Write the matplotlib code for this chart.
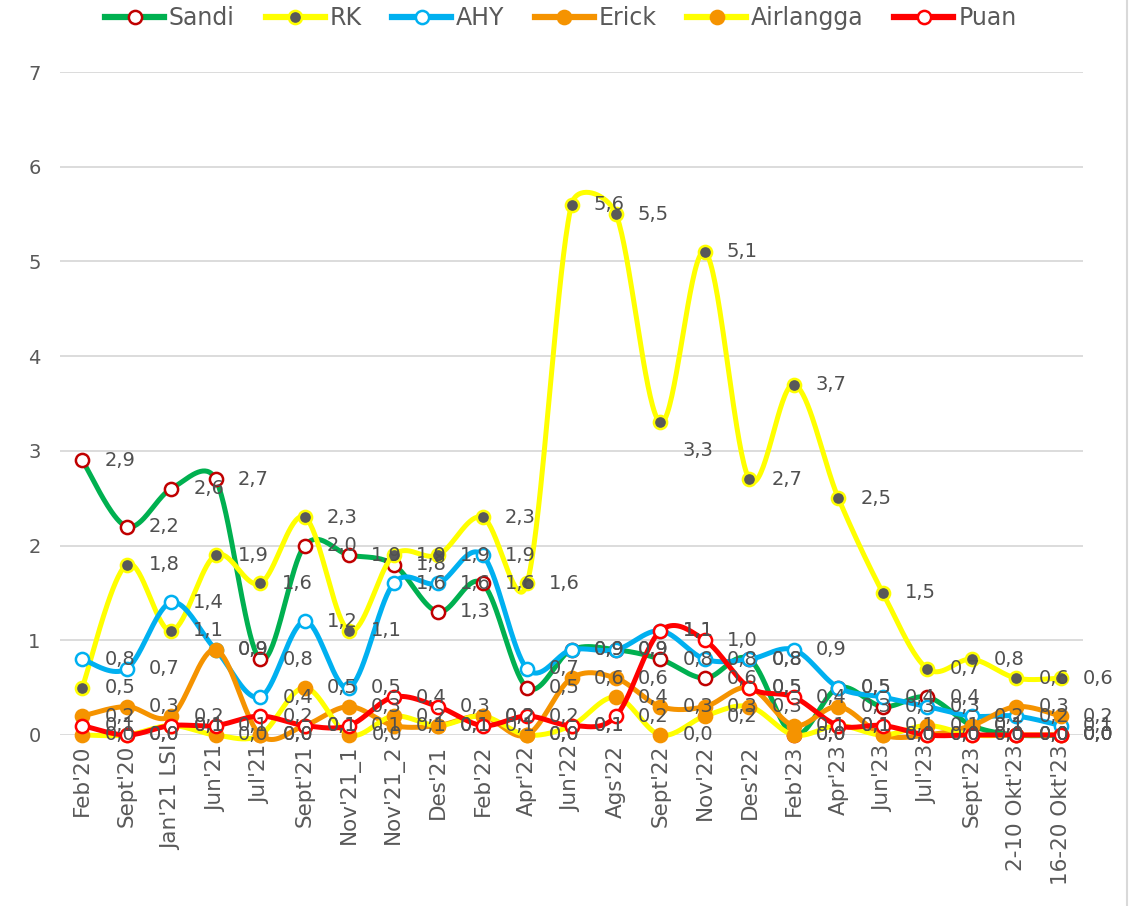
import numpy as np
import matplotlib
matplotlib.use("Agg")
import matplotlib.pyplot as plt
from matplotlib.lines import Line2D

plt.rcParams['font.family'] = ['DejaVu Sans']

categories = ["Feb'20", "Sept'20", "Jan'21 LSI", "Jun'21", "Jul'21", "Sept'21",
              "Nov'21_1", "Nov'21_2", "Des'21", "Feb'22", "Apr'22", "Jun'22",
              "Ags'22", "Sept'22", "Nov'22", "Des'22", "Feb'23", "Apr'23",
              "Jun'23", "Jul'23", "Sept'23", "2-10 Okt'23", "16-20 Okt'23"]

sandi = [2.9, 2.2, 2.6, 2.7, 0.8, 2.0, 1.9, 1.8, 1.3, 1.6, 0.5, 0.9, 0.9, 0.8,
         0.6, 0.8, 0.0, 0.5, 0.3, 0.4, 0.1, 0.0, 0.0]
rk = [0.5, 1.8, 1.1, 1.9, 1.6, 2.3, 1.1, 1.9, 1.9, 2.3, 1.6, 5.6, 5.5, 3.3,
      5.1, 2.7, 3.7, 2.5, 1.5, 0.7, 0.8, 0.6, 0.6]
ahy = [0.8, 0.7, 1.4, 0.9, 0.4, 1.2, 0.5, 1.6, 1.6, 1.9, 0.7, 0.9, 0.9, 1.1,
       0.8, 0.8, 0.9, 0.5, 0.4, 0.3, 0.2, 0.2, 0.1]
erick = [0.2, 0.3, 0.2, 0.9, 0.0, 0.1, 0.3, 0.1, 0.1, 0.2, 0.0, 0.6, 0.6, 0.3,
         0.3, 0.5, 0.1, 0.3, 0.0, 0.0, 0.1, 0.3, 0.2]
airlangga = [0.0, 0.0, 0.1, 0.0, 0.0, 0.5, 0.0, 0.2, 0.1, 0.2, 0.0, 0.1, 0.4, 0.0,
             0.2, 0.3, 0.0, 0.1, 0.0, 0.1, 0.0, 0.0, 0.0]
puan = [0.1, 0.0, 0.1, 0.1, 0.2, 0.1, 0.1, 0.4, 0.3, 0.1, 0.2, 0.1, 0.2, 1.1,
        1.0, 0.5, 0.4, 0.1, 0.1, 0.0, 0.0, 0.0, 0.0]

series_names = ["Sandi", "RK", "AHY", "Erick", "Airlangga", "Puan"]
series_values = [sandi, rk, ahy, erick, airlangga, puan]
# (line colour, marker face, marker edge)
styles = [
    ("#00B050", "white", "#C00000"),
    ("#FFFF00", "#595959", "#FFFF00"),
    ("#00B0F0", "white", "#00B0F0"),
    ("#F59300", "#F59300", "#F59300"),
    ("#FFFF00", "#F59300", "#F59300"),
    ("#FF0000", "white", "#FF0000"),
]
# individual data labels that sit lower than the default position (points)
label_shift = {("RK", 13): -20}

FIG_W, FIG_H = 1133, 906
AX_L, AX_R, AX_T, AX_B = 60, 1083, 72, 735
YMAX = 7
PX_X = (AX_R - AX_L) / len(categories)
PX_Y = (AX_B - AX_T) / YMAX


def smooth(x, y, n=40, ratio=0.5):
    """Spreadsheet-like smoothed line: Catmull-Rom bezier in screen space with the
    control-arm length limited to a fraction of the segment length."""
    P = np.column_stack([np.asarray(x, float) * PX_X, np.asarray(y, float) * PX_Y])
    m = len(P)
    tv = []
    for i in range(m):
        a = P[i - 1] if i > 0 else P[i]
        b = P[i + 1] if i < m - 1 else P[i]
        tv.append((b - a) / 6.0)
    out = [P[0]]
    t = np.linspace(0, 1, n)[1:, None]
    for i in range(m - 1):
        p1, p2 = P[i], P[i + 1]
        seg = np.hypot(*(p2 - p1))
        a1, a2 = tv[i].copy(), tv[i + 1].copy()
        for a in (a1, a2):
            L = np.hypot(*a)
            if L > ratio * seg and L > 0:
                a *= ratio * seg / L
        c1 = p1 + a1
        c2 = p2 - a2
        b = ((1 - t) ** 3) * p1 + 3 * ((1 - t) ** 2) * t * c1 + \
            3 * (1 - t) * t ** 2 * c2 + t ** 3 * p2
        out.extend(b)
    out = np.array(out)
    return out[:, 0] / PX_X, out[:, 1] / PX_Y


fig = plt.figure(figsize=(FIG_W / 100, FIG_H / 100), dpi=100)
ax = fig.add_axes([AX_L / FIG_W, 1 - AX_B / FIG_H, (AX_R - AX_L) / FIG_W,
                   (AX_B - AX_T) / FIG_H])

xs = np.arange(len(categories))
handles = []
for k, (name, vals, (lc, mf, me)) in enumerate(zip(series_names, series_values, styles)):
    sx, sy = smooth(xs, vals)
    ax.plot(sx, sy, color=lc, lw=3.6, solid_capstyle='round', zorder=2 + k * 2,
            clip_on=False)
    ax.plot(xs, vals, linestyle='none', marker='o', markersize=9.5,
            markerfacecolor=mf, markeredgecolor=me, markeredgewidth=1.8,
            zorder=3 + k * 2, clip_on=False)
    handles.append(Line2D([0], [0], color=lc, lw=4.5, marker='o', markersize=9.5,
                          markerfacecolor=mf, markeredgecolor=me,
                          markeredgewidth=1.8))
    for i, (xi, v) in enumerate(zip(xs, vals)):
        dy = label_shift.get((name, i), 0)
        ax.annotate(f"{v:.1f}".replace('.', ','), (xi, v), xytext=(27, dy),
                    textcoords='offset points', ha='center', va='center',
                    fontsize=14, color='#505050', zorder=30,
                    annotation_clip=False)

ax.set_xlim(-0.5, len(categories) - 0.5)
ax.set_ylim(0, YMAX)
ax.set_yticks(range(0, YMAX + 1))
ax.set_xticks(xs)
ax.set_xticklabels(categories, rotation=90, fontsize=15.5, color='#595959')
ax.tick_params(axis='y', labelsize=14, labelcolor='#595959', length=0, pad=14)
ax.tick_params(axis='x', length=0, pad=7)
ax.grid(axis='y', color='#D9D9D9', lw=1.3, zorder=0)
ax.set_axisbelow(True)
for s in ax.spines.values():
    s.set_visible(False)

fig.legend(handles, series_names, loc='center', bbox_to_anchor=(0.495, 1 - 18 / FIG_H),
           ncol=6, frameon=False, fontsize=17, handlelength=2.5,
           handletextpad=0.2, columnspacing=1.3, labelcolor='#595959',
           borderpad=0.1)

fig.add_artist(Line2D([1127 / FIG_W, 1127 / FIG_W], [0, 1], color='#D9D9D9', lw=1.5,
                      transform=fig.transFigure))

fig.savefig("out.png", dpi=100, facecolor='white')
